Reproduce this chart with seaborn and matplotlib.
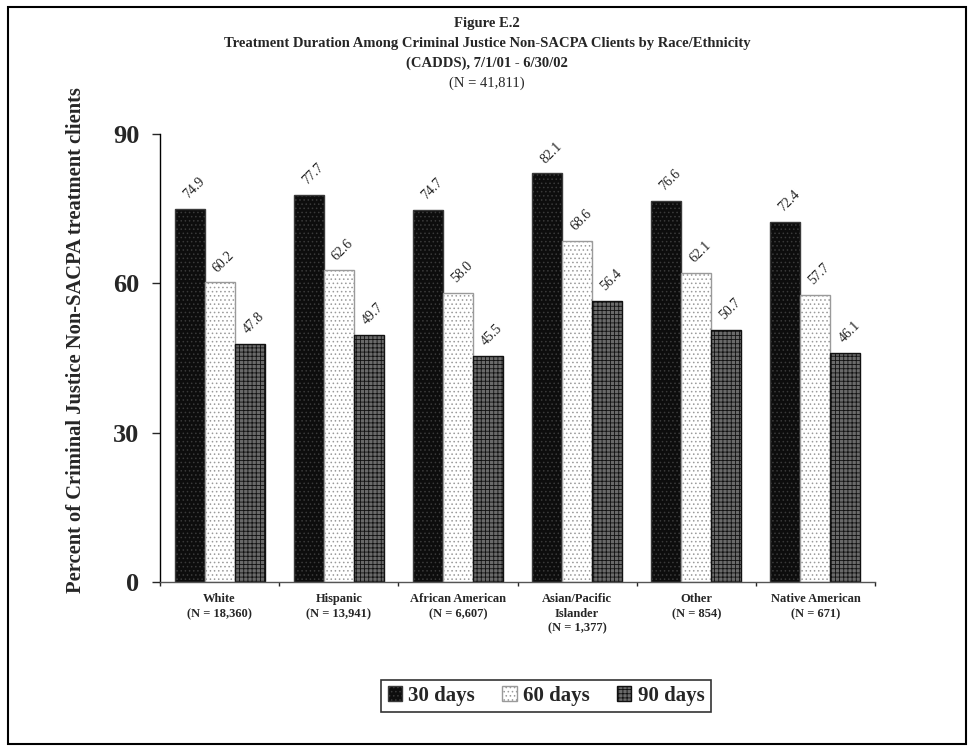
import matplotlib
matplotlib.use("Agg")
import matplotlib.pyplot as plt
from matplotlib.patches import Patch, Rectangle
import seaborn as sns
import pandas as pd
import numpy as np

categories = ["White\n(N = 18,360)", "Hispanic\n(N = 13,941)", "African American\n(N = 6,607)",
              "Asian/Pacific\nIslander\n(N = 1,377)", "Other\n(N = 854)", "Native American\n(N = 671)"]
series_names = ["30 days", "60 days", "90 days"]
days30 = [74.9, 77.7, 74.7, 82.1, 76.6, 72.4]
days60 = [60.2, 62.6, 58.0, 68.6, 62.1, 57.7]
days90 = [47.8, 49.7, 45.5, 56.4, 50.7, 46.1]
yticks = [0, 30, 60, 90]

sns.set_theme(style="white")
plt.rcParams['font.family'] = ['Liberation Serif', 'DejaVu Serif']
plt.rcParams['hatch.linewidth'] = 0.6

rows = []
for name, vals in zip(series_names, [days30, days60, days90]):
    for c, v in zip(categories, vals):
        rows.append({"cat": c, "series": name, "value": v})
df = pd.DataFrame(rows)

fig = plt.figure(figsize=(9.73, 7.51), dpi=100)
ax = fig.add_axes([160/973, 1-582/751, (875-160)/973, (582-134)/751])

sns.barplot(data=df, x="cat", y="value", hue="series", order=categories,
            hue_order=series_names, width=0.755, ax=ax, legend=False,
            errorbar=None, saturation=1)

styles = [
    dict(facecolor="#0d0d0d", edgecolor="#3a3a3a", hatch="...."),
    dict(facecolor="#ffffff", edgecolor="#9a9a9a", hatch="...."),
    dict(facecolor="#6a6a6a", edgecolor="#111111", hatch="++++"),
]
for cont, st in zip(ax.containers, styles):
    for bar in cont:
        bar.set_facecolor(st["facecolor"])
        bar.set_edgecolor(st["edgecolor"])
        bar.set_hatch(st["hatch"])
        bar.set_linewidth(1.0)
    for bar in cont:
        h = bar.get_height()
        ax.annotate(f"{h:.1f}", (bar.get_x() + bar.get_width()/2, h),
                    xytext=(3, 15), textcoords="offset points",
                    ha="center", va="center", rotation=45, fontsize=10, color="#222222")

ax.set_ylim(0, 90)
ax.set_xlim(-0.5, 5.5)
ax.set_yticks(yticks)
ax.set_yticklabels([str(t) for t in yticks], fontsize=19, fontweight="bold")
ax.tick_params(axis="y", direction="out", length=6, width=1, pad=9, left=True)
ax.set_xticks(range(len(categories)))
ax.set_xticklabels(categories, fontsize=9, fontweight="bold")
ax.tick_params(axis="x", which="major", length=0, pad=8)
ax.set_xticks(np.arange(-0.5, 6, 1), minor=True)
ax.tick_params(axis="x", which="minor", direction="out", length=3, width=1, bottom=True)
for lab in ax.get_xticklabels():
    lab.set_linespacing(1.3)
    lab.set_va("top")

ax.set_xlabel("")
ax.set_ylabel("Percent of Criminal Justice Non-SACPA treatment clients",
              fontsize=14.8, fontweight="bold")
ax.yaxis.set_label_coords((86-160)/(875-160), (582-340)/(582-134))
for s in ["top", "right"]:
    ax.spines[s].set_visible(False)
for s in ["left", "bottom"]:
    ax.spines[s].set_color("black")
    ax.spines[s].set_linewidth(1.0)
ax.spines["bottom"].set_color("#555555")

# Title
cx = 487/973
fig.text(cx, 1-23/751, "Figure E.2", ha="center", va="center", fontsize=10.5, fontweight="bold")
fig.text(cx, 1-43/751, "Treatment Duration Among Criminal Justice Non-SACPA Clients by Race/Ethnicity",
         ha="center", va="center", fontsize=10.5, fontweight="bold")
fig.text(cx, 1-63/751, "(CADDS), 7/1/01 - 6/30/02", ha="center", va="center", fontsize=10.5, fontweight="bold")
fig.text(cx, 1-83/751, "(N = 41,811)", ha="center", va="center", fontsize=10.5)

# Legend
handles = [Patch(facecolor=st["facecolor"], edgecolor=st["edgecolor"], hatch=st["hatch"], label=n)
           for st, n in zip(styles, series_names)]
leg = fig.legend(handles=handles, loc="center", bbox_to_anchor=(546/973, 1-696/751),
                 ncol=3, frameon=True, fancybox=False, edgecolor="black",
                 prop={"size": 15, "weight": "bold"}, handlelength=0.7, handleheight=0.7,
                 handletextpad=0.3, columnspacing=1.3, borderpad=0.3)
leg.get_frame().set_linewidth(1.2)

# Outer border
fig.patches.append(Rectangle((8/973, 7/751), (966-8)/973, (744-7)/751, transform=fig.transFigure,
                             fill=False, edgecolor="black", linewidth=1.5))

fig.savefig("out.png", dpi=100)
